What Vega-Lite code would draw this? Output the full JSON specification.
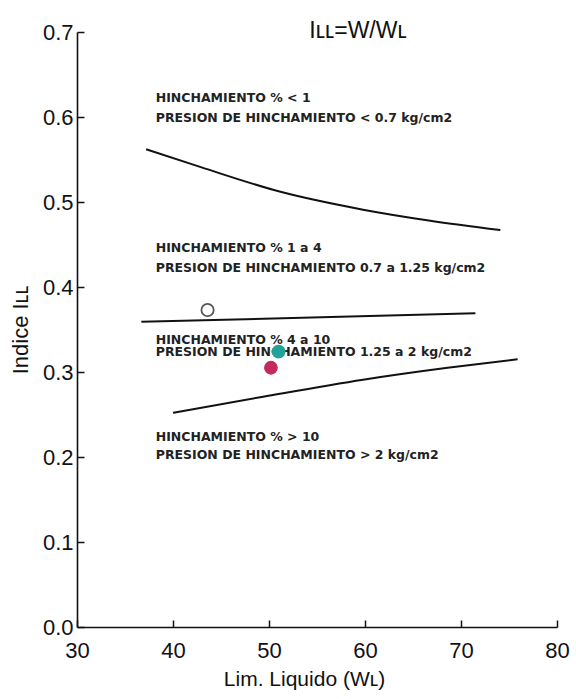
{
  "$schema": "https://vega.github.io/schema/vega-lite/v6.json",
  "autosize": "none",
  "padding": {"left": 77, "top": 32, "right": 19, "bottom": 72},
  "width": 480,
  "height": 595,
  "background": "white",
  "config": {
    "view": {"stroke": null},
    "font": "Liberation Sans"
  },
  "title": {
    "text": "Iʟʟ=W/Wʟ",
    "fontSize": 23,
    "fontWeight": "normal",
    "font": "Liberation Sans",
    "color": "#111",
    "anchor": "middle",
    "dx": 41,
    "dy": 26
  },
  "datasets": {
    "curves": [
      {"serie": "superior", "wl": 37.2, "ill": 0.562},
      {"serie": "superior", "wl": 42.9, "ill": 0.541},
      {"serie": "superior", "wl": 51.2, "ill": 0.512},
      {"serie": "superior", "wl": 59.8, "ill": 0.491},
      {"serie": "superior", "wl": 66.8, "ill": 0.478},
      {"serie": "superior", "wl": 74.1, "ill": 0.467},
      {"serie": "media", "wl": 36.7, "ill": 0.359},
      {"serie": "media", "wl": 71.5, "ill": 0.369},
      {"serie": "inferior", "wl": 40.0, "ill": 0.252},
      {"serie": "inferior", "wl": 49.4, "ill": 0.271},
      {"serie": "inferior", "wl": 59.8, "ill": 0.291},
      {"serie": "inferior", "wl": 68.6, "ill": 0.305},
      {"serie": "inferior", "wl": 75.9, "ill": 0.315}
    ],
    "labels": [
      {"wl": 38.2, "ill": 0.622, "txt": "HINCHAMIENTO % < 1"},
      {"wl": 38.2, "ill": 0.599, "txt": "PRESION DE HINCHAMIENTO < 0.7 kg/cm2"},
      {"wl": 38.2, "ill": 0.446, "txt": "HINCHAMIENTO   % 1 a 4"},
      {"wl": 38.2, "ill": 0.422, "txt": "PRESION DE HINCHAMIENTO 0.7 a 1.25 kg/cm2"},
      {"wl": 38.2, "ill": 0.338, "txt": "HINCHAMIENTO % 4 a 10"},
      {"wl": 38.2, "ill": 0.324, "txt": "PRESION DE HINCHAMIENTO 1.25 a 2 kg/cm2"},
      {"wl": 38.2, "ill": 0.224, "txt": "HINCHAMIENTO % > 10"},
      {"wl": 38.2, "ill": 0.202, "txt": "PRESION DE HINCHAMIENTO > 2 kg/cm2"}
    ],
    "marker": [
      {"wl": 43.6, "ill": 0.373}
    ],
    "samples": [
      {"muestra": "A", "wl": 51.0, "ill": 0.324},
      {"muestra": "B", "wl": 50.2, "ill": 0.305}
    ]
  },
  "layer": [
    {
      "data": {"name": "labels"},
      "mark": {"type": "text", "align": "left", "baseline": "middle", "font": "DejaVu Sans", "fontSize": 12.5, "fontWeight": "bold", "color": "#222"},
      "encoding": {
        "x": {"field": "wl", "type": "quantitative", "scale": {"domain": [30, 80], "nice": false, "zero": false},
          "axis": {
            "values": [30, 40, 50, 60, 70, 80],
            "title": "Lim. Liquido (Wʟ)",
            "titleFontSize": 21, "titleFontWeight": "normal", "titleColor": "#111",
            "titlePadding": 7, "titleX": 227,
            "labelFontSize": 22, "labelColor": "#111", "labelPadding": 20,
            "tickSize": -7, "tickWidth": 1.5, "tickColor": "#111",
            "domainWidth": 1.6, "domainColor": "#111", "grid": false,
            "labelFlush": false
          }},
        "y": {"field": "ill", "type": "quantitative", "scale": {"domain": [0, 0.7], "nice": false, "zero": false},
          "axis": {
            "values": [0, 0.1, 0.2, 0.3, 0.4, 0.5, 0.6, 0.7],
            "format": ".1f",
            "title": "Indice Iʟʟ",
            "titleFontSize": 22, "titleFontWeight": "normal", "titleColor": "#111",
            "titlePadding": 10,
            "labelFontSize": 22, "labelColor": "#111", "labelPadding": 11,
            "tickSize": -7, "tickWidth": 1.5, "tickColor": "#111",
            "domainWidth": 1.6, "domainColor": "#111", "grid": false,
            "labelFlush": false
          }},
        "text": {"field": "txt"}
      }
    },
    {
      "data": {"name": "curves"},
      "mark": {"type": "line", "interpolate": "monotone", "color": "#111", "strokeWidth": 2},
      "encoding": {
        "x": {"field": "wl", "type": "quantitative"},
        "y": {"field": "ill", "type": "quantitative"},
        "detail": {"field": "serie"}
      }
    },
    {
      "data": {"name": "marker"},
      "mark": {"type": "point", "shape": "circle", "filled": false, "color": "#111", "strokeWidth": 1.8, "size": 150},
      "encoding": {
        "x": {"field": "wl", "type": "quantitative"},
        "y": {"field": "ill", "type": "quantitative"}
      }
    },
    {
      "data": {"name": "samples"},
      "mark": {"type": "point", "shape": "circle", "filled": true, "opacity": 1, "size": 190, "strokeWidth": 1},
      "encoding": {
        "x": {"field": "wl", "type": "quantitative"},
        "y": {"field": "ill", "type": "quantitative"},
        "color": {"field": "muestra", "type": "nominal", "scale": {"domain": ["A", "B"], "range": ["#22a29a", "#c42a5c"]}, "legend": null}
      }
    }
  ]
}
